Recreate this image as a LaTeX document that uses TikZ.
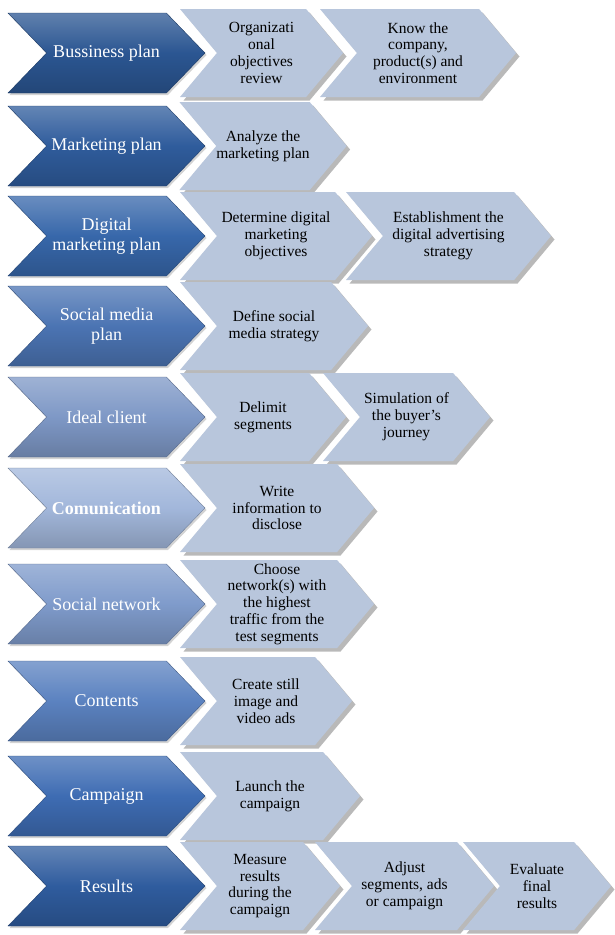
\documentclass[tikz,border=0pt]{standalone}
\usepackage{fontspec}
\setmainfont{Liberation Serif}
\usetikzlibrary{shapes.symbols,shadows}
\definecolor{rowA}{HTML}{2B5692}
\definecolor{rowB}{HTML}{2F5C9C}
\definecolor{rowC}{HTML}{3767AA}
\definecolor{rowD}{HTML}{4B74B3}
\definecolor{rowE}{HTML}{7E98C6}
\definecolor{rowF}{HTML}{A2B7DB}
\definecolor{rowG}{HTML}{7F9BCB}
\definecolor{rowH}{HTML}{5B82C0}
\definecolor{rowI}{HTML}{3E6CB3}
\definecolor{rowJ}{HTML}{2F5C9E}
\definecolor{taskfill}{HTML}{B8C6DC}
\tikzset{
  stage/.style = {signal,signal from=west,signal to=east,signal pointer angle=92,
    minimum width=197pt,minimum height=80pt,inner sep=0pt,
    top color=#1!75!white,bottom color=#1!82!black,middle color=#1,
    draw=#1!70!black,line width=0.4pt,text=white,align=center,
    font=\fontsize{18}{20}\selectfont,
    drop shadow={shadow xshift=1.5pt,shadow yshift=-2pt,opacity=0.35}},
  task/.style = {signal,signal from=west,signal to=east,signal pointer angle=100,
    minimum height=88pt,inner sep=0pt,fill=taskfill,draw=none,
    text=black,align=center,font=\fontsize{15.5}{16.8}\selectfont,
    drop shadow={shadow xshift=3.5pt,shadow yshift=-3.5pt,fill=black!50,opacity=0.55}},
}
\begin{document}
\begin{tikzpicture}[x=1pt,y=-1pt]
    \useasboundingbox (0,0) rectangle (614,935);

    \node[stage=rowA] at (106.5,53) (bp) {Bussiness plan};
    \node[task,minimum width=163pt] at (261.5,53) (bp1) {Organizati\\onal\\objectives\\review};
    \node[task,minimum width=196pt] at (418,53) (bp2) {Know the\\company,\\product(s) and\\environment};

    \node[stage=rowB] at (106.5,146) (mp) {Marketing plan};
    \node[task,minimum width=166pt] at (263,146) (mp1) {Analyze the\\marketing plan};

    \node[stage=rowC] at (106.5,236) (dmp) {Digital\\marketing plan};
    \node[task,minimum width=192pt] at (276,236) (dmp1) {Determine digital\\marketing\\objectives};
    \node[task,minimum width=205pt] at (448.5,236) (dmp2) {Establishment the\\digital advertising\\strategy};

    \node[stage=rowD] at (106.5,326) (smp) {Social media\\plan};
    \node[task,minimum width=188pt] at (274,326) (smp1) {Define social\\media strategy};

    \node[stage=rowE] at (106.5,417) (ic) {Ideal client};
    \node[task,minimum width=166pt] at (263,417) (ic1) {Delimit\\segments};
    \node[task,minimum width=167pt] at (406.5,417) (ic2) {Simulation of\\the buyer's\\journey};

    \node[stage=rowF,font=\fontsize{18}{20}\selectfont\bfseries] at (106.5,508) (com) {Comunication};
    \node[task,minimum width=194pt] at (277,508) (com1) {Write\\information to\\disclose};

    \node[stage=rowG] at (106.5,604) (sn) {Social network};
    \node[task,minimum width=194pt] at (277,604) (sn1) {Choose\\network(s) with\\the highest\\traffic from the\\test segments};

    \node[stage=rowH] at (106.5,701) (ct) {Contents};
    \node[task,minimum width=172pt] at (266,701) (ct1) {Create still\\image and\\video ads};

    \node[stage=rowI] at (106.5,796) (cp) {Campaign};
    \node[task,minimum width=180pt] at (270,796) (cp1) {Launch the\\campaign};

    \node[stage=rowJ] at (106.5,886) (rs) {Results};
    \node[task,minimum width=160pt] at (260,886) (rs1) {Measure\\results\\during the\\campaign};
    \node[task,minimum width=179pt] at (404.5,886) (rs2) {Adjust\\segments, ads\\or campaign};
    \node[task,minimum width=148pt] at (537,886) (rs3) {Evaluate\\final\\results};

\end{tikzpicture}
\end{document}
